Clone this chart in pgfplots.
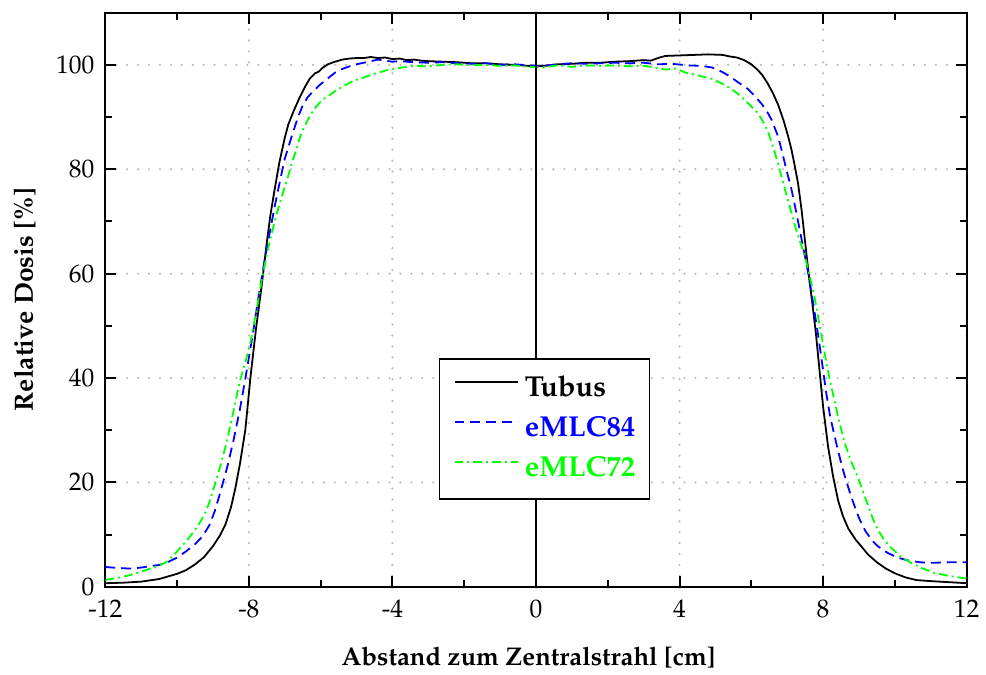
\documentclass[border=0pt]{standalone}
\usepackage[T1]{fontenc}
\usepackage{mathpazo}
\usepackage{pgfplots}
\pgfplotsset{compat=1.18}

\definecolor{mlcblue}{RGB}{0,0,255}
\definecolor{mlcgreen}{RGB}{0,255,0}
\definecolor{gridgray}{RGB}{185,185,185}

% Querprofile (x in cm, relative Dosis in %)
\pgfplotstableread{
x y
-12.0 0.7
-11.5 0.8
-11.0 1.0
-10.5 1.5
-10.0 2.5
-9.75 3.2
-9.5 4.3
-9.25 5.7
-9.0 7.8
-8.8 9.9
-8.65 12.0
-8.5 15.2
-8.38 18.8
-8.25 23.5
-8.1 30.0
-7.95 40.5
-7.8 49.5
-7.65 57.3
-7.5 66.0
-7.4 71.2
-7.28 76.2
-7.15 81.3
-7.0 86.0
-6.9 88.6
-6.75 91.2
-6.6 93.5
-6.45 95.6
-6.3 97.4
-6.15 98.4
-6.05 98.7
-5.95 99.4
-5.8 100.1
-5.6 100.6
-5.4 101.0
-5.2 101.2
-5.0 101.3
-4.8 101.3
-4.6 101.5
-4.4 101.3
-4.2 101.4
-4.0 101.1
-3.8 101.2
-3.6 100.9
-3.4 101.0
-3.2 100.8
-3.0 100.7
-2.6 100.6
-2.2 100.5
-1.8 100.3
-1.4 100.3
-1.0 100.1
-0.6 100.0
-0.2 99.8
0.2 99.8
0.6 100.1
1.0 100.2
1.4 100.4
1.8 100.4
2.2 100.6
2.6 100.7
3.0 100.9
3.2 100.8
3.4 101.3
3.6 101.7
4.0 101.8
4.4 101.9
4.8 102.0
5.2 101.9
5.4 101.6
5.6 101.4
5.8 100.9
6.0 100.1
6.15 99.2
6.3 98.1
6.45 96.5
6.6 94.6
6.75 92.3
6.9 89.3
7.03 86.2
7.12 83.7
7.2 81.0
7.3 77.4
7.4 72.2
7.5 66.0
7.6 59.8
7.7 54.3
7.8 48.5
7.9 41.5
8.0 34.5
8.14 26.8
8.28 21.1
8.42 16.5
8.55 13.6
8.7 11.2
8.9 9.1
9.06 7.8
9.25 6.2
9.5 4.7
9.75 3.5
10.0 2.6
10.3 1.8
10.6 1.3
11.0 1.1
11.5 0.9
12.0 0.7
}\tubus

\pgfplotstableread{
x y
-12.0 3.8
-11.6 3.6
-11.3 3.5
-11.0 3.7
-10.8 3.9
-10.5 4.2
-10.3 4.6
-10.0 5.6
-9.75 6.8
-9.5 8.2
-9.3 9.6
-9.1 11.8
-8.95 14.5
-8.8 18.0
-8.6 23.0
-8.43 28.0
-8.25 34.0
-8.1 39.8
-7.9 48.0
-7.74 55.2
-7.54 63.4
-7.4 68.5
-7.28 72.9
-7.1 78.8
-7.0 82.0
-6.82 86.0
-6.63 90.0
-6.5 92.2
-6.36 93.8
-6.2 95.0
-6.0 96.3
-5.8 97.4
-5.6 98.5
-5.4 99.2
-5.2 99.7
-5.0 100.1
-4.8 100.4
-4.6 100.7
-4.4 101.0
-4.2 100.8
-4.0 100.6
-3.8 100.7
-3.4 100.5
-3.0 100.4
-2.6 100.5
-2.2 100.3
-1.8 100.2
-1.4 100.3
-1.0 100.0
-0.6 100.1
-0.2 99.9
0.2 99.8
0.6 100.1
1.0 100.3
1.4 100.2
1.8 100.3
2.2 100.4
2.6 100.3
3.0 100.4
3.4 100.1
3.8 100.2
4.2 99.9
4.6 99.8
4.9 99.5
5.2 98.6
5.4 97.8
5.6 96.8
5.9 95.4
6.1 94.0
6.29 92.5
6.45 90.9
6.57 89.4
6.75 86.2
6.89 82.4
7.0 79.3
7.12 76.1
7.25 71.8
7.4 66.6
7.58 60.3
7.72 54.5
7.86 48.3
8.0 41.5
8.09 37.0
8.2 32.5
8.37 27.4
8.5 23.8
8.6 21.3
8.75 18.0
8.88 15.4
9.0 13.2
9.16 10.9
9.35 9.0
9.52 7.8
9.8 6.5
10.08 5.6
10.4 5.0
10.72 4.7
11.0 4.6
11.5 4.7
12.0 4.7
}\emlcA

\pgfplotstableread{
x y
-12.0 1.3
-11.6 1.8
-11.34 2.2
-11.0 2.9
-10.79 3.4
-10.5 4.1
-10.33 4.6
-10.1 6.0
-9.91 7.5
-9.7 9.1
-9.5 10.9
-9.35 12.5
-9.22 14.1
-9.1 16.2
-8.94 19.8
-8.78 23.5
-8.62 27.7
-8.45 33.0
-8.25 39.4
-8.1 43.0
-7.97 46.4
-7.8 52.5
-7.65 58.4
-7.47 64.7
-7.3 69.5
-7.19 72.3
-7.05 75.5
-6.91 78.6
-6.8 81.2
-6.68 83.7
-6.54 86.9
-6.4 88.9
-6.27 90.6
-6.1 92.2
-5.95 93.3
-5.75 94.2
-5.55 95.2
-5.34 96.0
-5.1 96.9
-4.79 97.6
-4.5 98.3
-4.14 99.0
-3.8 99.4
-3.4 99.8
-3.0 99.7
-2.6 100.0
-2.2 100.1
-1.8 99.9
-1.4 100.0
-1.0 99.8
-0.6 99.9
-0.2 99.6
0.2 99.5
0.6 99.9
1.0 99.6
1.4 99.9
1.8 99.8
2.2 99.9
2.6 99.7
3.0 99.8
3.3 99.5
3.6 99.1
3.9 99.3
4.17 98.5
4.5 98.0
4.91 97.3
5.15 96.5
5.37 95.7
5.6 94.6
5.83 93.2
6.0 92.0
6.2 90.6
6.35 88.8
6.48 86.9
6.66 83.1
6.8 79.6
6.94 76.1
7.08 72.6
7.22 69.1
7.35 66.3
7.49 63.4
7.63 59.4
7.77 55.2
7.9 50.2
8.05 44.5
8.18 39.8
8.32 35.6
8.45 31.6
8.6 27.6
8.78 24.0
8.97 21.0
9.1 18.5
9.25 15.6
9.4 12.8
9.52 11.0
9.7 9.0
9.89 7.5
10.15 5.9
10.45 4.6
10.75 3.6
11.09 2.7
11.5 2.1
12.0 1.6
}\emlcB

\begin{document}
\begin{tikzpicture}
\begin{axis}[
  name=ax,
  scale only axis,
  width=433.5pt, height=289pt,
  xmin=-12, xmax=12, ymin=0, ymax=110,
  xtick={-12,-8,-4,0,4,8,12},
  xticklabels={-12,-8,-4,0,4,8,12},
  ytick={0,20,40,60,80,100},
  minor x tick num=1, minor y tick num=1,
  tick align=inside,
  major tick length=5.5pt, minor tick length=3.5pt,
  every tick/.style={black, line width=1pt},
  axis line style={line width=1pt},
  xmajorgrids, ymajorgrids,
  major grid style={line width=1.2pt, color=gridgray, dash pattern=on 0pt off 5.5pt, line cap=round},
  tick label style={font=\fontsize{12.8}{15}\selectfont},
  yticklabel style={xshift=-2pt},
  xticklabel style={yshift=-3pt},
  every axis x label/.style={at={(axis description cs:0.4913,-0.1228)}, anchor=center,
    font=\fontsize{12.9}{15}\selectfont\bfseries},
  every axis y label/.style={at={(axis description cs:-0.0934,0.5)}, rotate=90, anchor=center,
    font=\fontsize{13.3}{15}\selectfont\bfseries},
  xlabel={Abstand zum Zentralstrahl [cm]},
  ylabel={Relative Dosis [\%]},
  legend cell align=left,
  legend image code/.code={\draw[#1] (0pt,0.35em) -- (32pt,0.35em);},
  legend style={
    at={(axis description cs:0.3875,0.398)}, anchor=north west,
    draw=black, line width=0.65pt, fill=white,
    inner xsep=7pt, inner ysep=8.5pt,
    font=\fontsize{14.5}{17}\selectfont\bfseries,
    row sep=6.5pt,
    nodes={inner sep=0pt, text height=10.5pt, text depth=3pt},
    /tikz/every odd column/.append style={column sep=3pt},
  },
]
\addplot[black, line width=0.9pt] table[x=x, y=y] {\tubus};
\addlegendentry{Tubus}
\addplot[mlcblue, line width=0.9pt, dash pattern=on 5pt off 3pt] table[x=x, y=y] {\emlcA};
\addlegendentry{\textcolor{mlcblue}{eMLC84}}
\addplot[mlcgreen, line width=0.9pt, dash pattern=on 4.5pt off 2pt on 1pt off 2pt] table[x=x, y=y] {\emlcB};
\addlegendentry{\textcolor{mlcgreen}{eMLC72}}

% Mittellinie bei x = 0 mit Skalenstrichen
\draw[line width=1pt] (axis cs:0,0) -- (axis cs:0,110);
\pgfplotsinvokeforeach{20,40,60,80,100}{
  \draw[line width=1pt] (axis cs:0,#1) ++(-5.5pt,0) -- ++(11pt,0);
}
\pgfplotsinvokeforeach{10,30,50,70,90}{
  \draw[line width=1pt] (axis cs:0,#1) ++(-3pt,0) -- ++(6pt,0);
}
\end{axis}
\path (ax.south west) ++(-53pt,-42.5pt);
\path (ax.north east) ++(6.5pt,6.35pt);
\end{tikzpicture}
\end{document}
